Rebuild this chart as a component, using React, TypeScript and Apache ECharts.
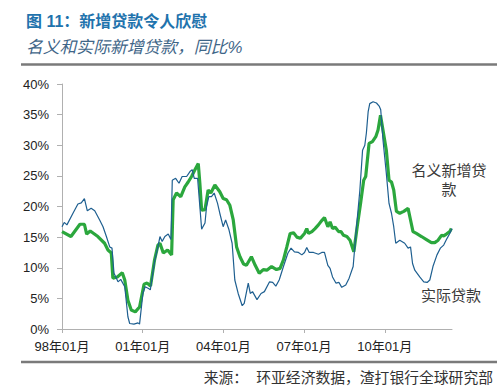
import React, { useEffect, useRef } from "react";
import * as echarts from "echarts";

// Month index: 0 = 1998-01
const xTickMonths = [0, 36, 72, 108, 144];
const yTicks = [0, 5, 10, 15, 20, 25, 30, 35, 40];

// 名义新增贷款 (nominal new loans, % y/y)
const nominal: [number, number][] = [
  [0, 15.9], [4, 15.1], [8, 17.1], [10, 17.1], [11, 15.5], [12.6, 16.0], [16, 15.1], [19, 14.0],
  [20.5, 12.9], [22, 12.4], [22.7, 8.3], [24.7, 8.5], [26.9, 9.2], [28, 8.0], [29.4, 4.7], [30.9, 3.1],
  [32.7, 2.8], [34.6, 3.6], [36.6, 7.3], [38, 7.5], [39.5, 7.0], [41.3, 11.3], [42.8, 13.7], [43.7, 14.0],
  [45.2, 12.4], [47.1, 12.9], [48.9, 12.1], [49.6, 21.1], [51.1, 22.2], [53, 21.6], [54.8, 23.2], [56.3, 24.0],
  [57.8, 24.9], [59.3, 26.0], [60.8, 27.0], [61.5, 23.8], [62.3, 19.4], [63.8, 19.5], [65.2, 22.7], [66.4, 22.2],
  [68.2, 23.5], [70.4, 22.4], [71.9, 21.3], [73.4, 21.1], [74.9, 20.2], [76.4, 17.8], [77.9, 13.4], [79.4, 11.8],
  [81, 10.6], [82.3, 10.4], [84.5, 11.8], [86.2, 10.4], [88, 9.1], [89.8, 9.7], [91.4, 9.6], [93.5, 10.2],
  [95.7, 9.7], [97.3, 9.9], [98.8, 11.3], [100.3, 13.4], [101.8, 15.6], [103.3, 15.7], [104.8, 15.0], [106.3, 14.8],
  [108.2, 15.6], [109.2, 16.4], [110, 15.6], [111.5, 15.9], [112.9, 16.4], [114.4, 17.0], [115.9, 17.7], [117.1, 18.2],
  [118.6, 16.7], [119.6, 17.5], [120.7, 16.4], [121.9, 16.6], [123.4, 15.9], [124.5, 15.9], [125.6, 15.3], [127.1, 15.1],
  [128.5, 14.5], [130.2, 12.6], [131.7, 16.7], [133.2, 20.5], [134.6, 24.3], [135.5, 24.9], [137, 30.3], [138.5, 30.6],
  [140, 31.4], [141, 32.5], [142.1, 34.9], [143.2, 32.5], [144.7, 29.2], [145.9, 24.3], [147, 24.0], [148, 22.7],
  [149.2, 19.2], [150.7, 18.9], [152.5, 19.2], [154.4, 19.7], [155.5, 17.8], [156.6, 15.9], [158.1, 15.6], [160.4, 15.1],
  [162.6, 14.6], [164.8, 14.1], [166.3, 14.1], [167.8, 14.5], [169.3, 15.3], [170.3, 15.2], [171.5, 15.5], [173, 15.9],
  [173.7, 16.4],
];

// 实际贷款 (real loans, % y/y)
const real: [number, number][] = [
  [0, 16.7], [1, 17.4], [2.2, 17.0], [4.9, 18.9], [7.1, 20.4], [8.6, 20.6], [10, 21.3], [11.3, 19.3],
  [13, 19.7], [14.6, 19.3], [16.8, 17.8], [18.3, 16.7], [19.8, 15.1], [21.3, 13.4], [22.3, 13.2], [23.2, 9.1],
  [25, 7.7], [26.2, 8.1], [28, 6.9], [29.4, 2.0], [30.2, 0.9], [32.1, 0.8], [33.9, 1.0], [34.6, 0.8],
  [36.1, 5.8], [37.1, 6.9], [38.6, 6.6], [39.4, 6.4], [41.3, 11.0], [42.8, 13.4], [43.7, 15.1], [44.7, 14.3],
  [45.9, 15.1], [47.4, 15.5], [48.6, 14.6], [49.2, 24.3], [50.7, 24.6], [52.2, 23.8], [53.6, 24.9], [55.6, 24.9],
  [57.1, 25.7], [58.1, 26.0], [59, 24.6], [60.5, 24.6], [61.5, 20.0], [62.3, 16.3], [63.8, 17.3], [64.5, 20.0],
  [65.5, 21.6], [66.7, 21.6], [67.9, 22.2], [69.4, 20.5], [70.4, 18.9], [71.9, 16.7], [73, 17.8], [74.5, 16.2],
  [75.9, 14.0], [77.1, 8.0], [78.6, 5.8], [80.4, 3.8], [81.3, 4.2], [83.1, 7.5], [84, 5.8], [85, 6.1],
  [87, 4.8], [88.8, 5.8], [90.3, 6.1], [92.6, 7.7], [94, 7.6], [95.4, 7.0], [96.9, 8.0], [98.8, 10.2],
  [100.8, 12.4], [102.2, 13.2], [103.7, 12.6], [105.5, 12.5], [107, 12.1], [108.2, 12.5], [109.2, 13.3], [110.3, 12.5],
  [112.2, 12.5], [114.4, 12.2], [115.9, 12.5], [117.1, 12.5], [118.6, 10.4], [119.6, 9.9], [120.7, 8.5], [122.2, 7.5],
  [123.6, 7.6], [124.8, 6.8], [126.6, 7.2], [128.1, 8.3], [129.9, 10.2], [131.4, 16.7], [132.9, 22.7], [134.1, 29.2],
  [135.1, 30.0], [135.8, 32.0], [136.6, 35.5], [137.3, 36.8], [138.8, 37.1], [140.3, 36.9], [141.5, 36.4], [142.2, 35.8],
  [143.2, 30.9], [144.7, 25.4], [145.9, 20.5], [147, 18.9], [148, 16.7], [148.9, 14.0], [150.7, 14.5], [152.9, 14.0],
  [154.4, 13.2], [155.5, 13.4], [156.4, 10.7], [157.4, 9.6], [159.6, 8.5], [161.4, 7.7], [162.9, 7.6], [164.1, 8.0],
  [165.5, 10.2], [167.3, 12.1], [168.8, 13.2], [170.3, 13.7], [171.8, 14.8], [173, 15.6], [174, 16.4],
];

const titleText = "图 11：新增贷款令人欣慰";
const subtitleText = "名义和实际新增贷款，同比%";
const sourceText = "来源：  环亚经济数据，渣打银行全球研究部";
const nominalLabel = ["名义新增贷", "款"];
const realLabel = "实际贷款";

const FONT = '"Liberation Sans", Arial, "Noto Sans CJK SC", sans-serif';

function monthLabel(m: number): string {
  const year = 1998 + Math.floor(m / 12);
  const mon = (m % 12) + 1;
  const yy = String(year % 100).padStart(2, "0");
  return `${yy}年${String(mon).padStart(2, "0")}月`;
}

export default function App() {
  const ref = useRef<HTMLDivElement>(null);
  useEffect(() => {
    if (!ref.current) return;
    const chart = echarts.init(ref.current, null, { renderer: "svg" });
    chart.setOption({
      animation: false,
      backgroundColor: "#ffffff",
      textStyle: { fontFamily: FONT },
      title: [
        {
          text: titleText,
          left: 21,
          top: 8,
          textStyle: { fontSize: 16, fontWeight: "bold", color: "#1f73ad", fontFamily: FONT },
        },
        {
          text: subtitleText,
          left: 21,
          top: 34,
          textStyle: { fontSize: 16.8, fontStyle: "italic", fontWeight: "normal", color: "#3f6688", fontFamily: FONT },
        },
      ],
      grid: { left: 62, right: 48, top: 84, bottom: 60, containLabel: false },
      xAxis: {
        type: "value",
        min: 0,
        max: 174,
        interval: 36,
        splitLine: { show: false },
        axisLine: { show: true, lineStyle: { color: "#b0b0b0", width: 1 } },
        axisTick: { show: true, length: 4, lineStyle: { color: "#b0b0b0" }, customValues: xTickMonths },
        axisLabel: {
          customValues: xTickMonths,
          formatter: (v: number) => monthLabel(v),
          fontSize: 13,
          color: "#222",
          margin: 11,
          fontFamily: FONT,
        },
      },
      yAxis: {
        type: "value",
        min: yTicks[0],
        max: yTicks[yTicks.length - 1],
        interval: 5,
        splitLine: { show: false },
        axisLine: { show: true, lineStyle: { color: "#b0b0b0", width: 1 } },
        axisTick: { show: true, length: 5, lineStyle: { color: "#b0b0b0" } },
        axisLabel: { formatter: "{value}%", fontSize: 13, color: "#222", margin: 13, fontFamily: FONT },
      },
      series: [
        {
          name: "实际贷款",
          type: "line",
          data: real,
          showSymbol: false,
          symbol: "none",
          lineStyle: { color: "#1e5f90", width: 1.2 },
          z: 3,
        },
        {
          name: "名义新增贷款",
          type: "line",
          data: nominal,
          showSymbol: false,
          symbol: "none",
          lineStyle: { color: "#2ba73d", width: 3.2 },
          z: 2,
        },
      ],
      graphic: [
        { type: "line", shape: { x1: 21, y1: 64.5, x2: 497, y2: 64.5 }, style: { stroke: "#7a7a7a", lineWidth: 2.5 } },
        { type: "line", shape: { x1: 21, y1: 362, x2: 497, y2: 362 }, style: { stroke: "#7a7a7a", lineWidth: 2.5 } },
        {
          type: "text",
          x: 493,
          y: 378,
          style: { text: sourceText, fill: "#333", font: `14.8px ${FONT}`, textAlign: "right", textVerticalAlign: "middle" },
        },
        {
          type: "text",
          x: 449,
          y: 170,
          style: { text: nominalLabel[0], fill: "#3a3a3a", font: `15px ${FONT}`, textAlign: "center", textVerticalAlign: "middle" },
        },
        {
          type: "text",
          x: 449,
          y: 189,
          style: { text: nominalLabel[1], fill: "#3a3a3a", font: `15px ${FONT}`, textAlign: "center", textVerticalAlign: "middle" },
        },
        {
          type: "text",
          x: 451,
          y: 295,
          style: { text: realLabel, fill: "#3a3a3a", font: `15px ${FONT}`, textAlign: "center", textVerticalAlign: "middle" },
        },
      ],
    });
    return () => chart.dispose();
  }, []);
  return <div ref={ref} style={{ position: "fixed", left: 0, top: 0, width: 500, height: 389 }} />;
}
